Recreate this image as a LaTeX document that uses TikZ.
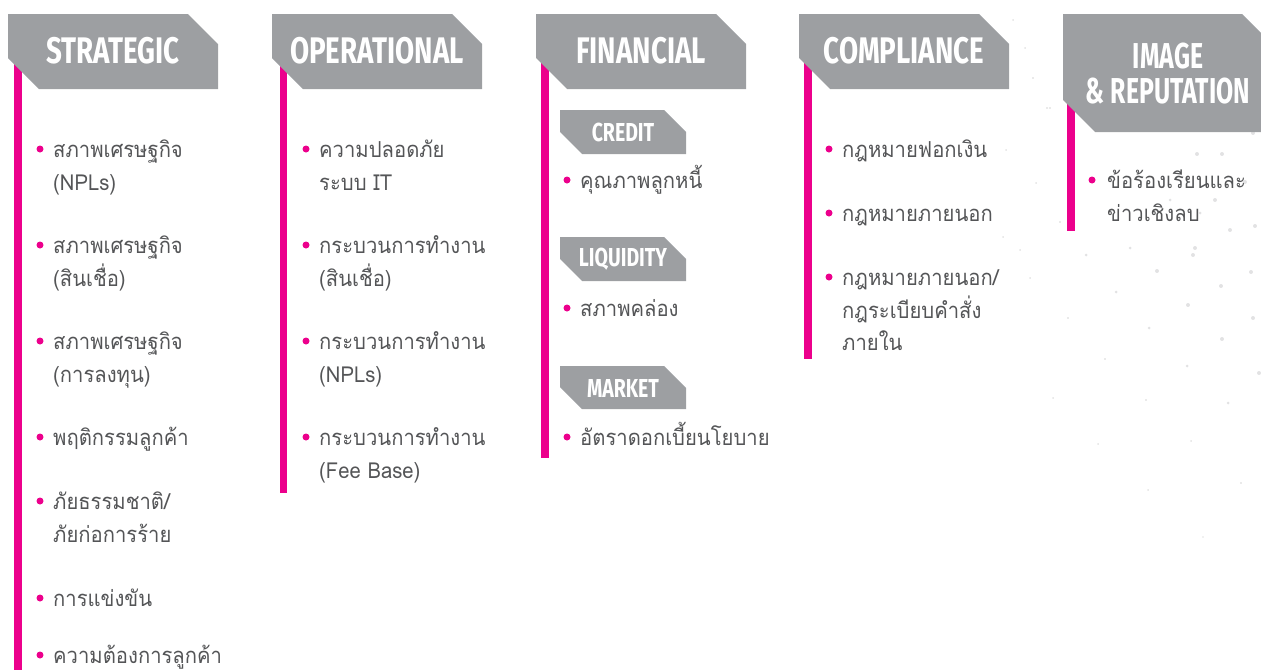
\documentclass[tikz,border=0pt]{standalone}
\usepackage{fontspec}
\newfontfamily\thaifont[Script=Thai,FakeStretch=0.92]{Loma}
\newfontfamily\hfont[FakeStretch=0.75]{Fira Sans}
\newfontfamily\rfont[FakeStretch=0.69]{Fira Sans}
\newfontfamily\sfont[FakeStretch=0.75]{Fira Sans}
\definecolor{pinkc}{HTML}{EC008C}
\definecolor{hdrgray}{HTML}{9D9FA2}
\definecolor{txtgray}{HTML}{545557}
\definecolor{dotgray}{HTML}{E2E2E3}
\tikzset{
  hdr/.style={fill=hdrgray},
  pinkbar/.style={fill=pinkc},
  htxt/.style={text=white,font=\hfont\bfseries\fontsize{37}{37}\selectfont,inner sep=0pt},
  rtxt/.style={text=white,font=\rfont\bfseries\fontsize{36}{36}\selectfont,inner sep=0pt},
  stxt/.style={text=white,font=\sfont\bfseries\fontsize{26}{26}\selectfont,inner sep=0pt},
  txt/.style={text=txtgray,font=\thaifont\fontsize{22}{22}\selectfont,inner sep=0pt,anchor=base west},
  bdot/.style={circle,fill=pinkc,inner sep=0pt,minimum size=7pt},
  bgdot/.style={fill=dotgray},
}
% L R T B c d
\newcommand\hshape[6]{\fill[hdr] (#1,#3) -- ({#2-#5},#3) -- (#2,{#3+#5}) -- (#2,#4) -- ({#1+#6},#4) -- (#1,{#4-#6}) -- cycle;}
% name x center-y text
\newcommand\tline[4]{\node[txt] (#1) at (#2,{#3+8}) {#4};}
\newcommand\bul[3]{\node[bdot] (#1) at (#2,#3) {};}
\begin{document}
\begin{tikzpicture}[x=1pt,y=-1pt]
\useasboundingbox (0,0) rectangle (1261,670);
% faint background dots
\foreach \px/\py/\r in {1013/20/1,1025/48/1,1033/78/1.2,1047/108/1.2,1006/150/1,1036/183/1,1003/237/1,1020/250/1,1030/278/1,
  1050/108/1.2,1197/154/2,1222/154/2,1253/133/2,1245/182/2,1170/200/1.5,1215/200/2,1200/213/1.5,1230/230/2,1255/226/2,1130/248/1.5,1195/248/2,1060/222/1.2,
  1086/255/1.5,1193/255/2,1157/271/2,1251/272/2,1116/292/1.5,1221/286/2,1188/305/2,1068/318/1.2,1149/328/1.5,1253/318/2,1222/339/2,
  1105/359/1.2,1187/366/1.5,1259/373/2,1053/398/1,1146/400/1.2,1228/403/1.5,1098/444/1,1191/441/1,1241/483/1.2,1148/490/1,1203/537/0.8}
  {\fill[bgdot] (\px,\py) circle[radius=\r];}
% pink bars
\fill[pinkbar] (14,58) rectangle (22,670);
\fill[pinkbar] (280,58) rectangle (287,493);
\fill[pinkbar] (541,58) rectangle (549,458);
\fill[pinkbar] (804,58) rectangle (812,359);
\fill[pinkbar] (1067,100) rectangle (1075,231);
% headers
\hshape{8}{218}{14}{89}{30}{31}
\hshape{272}{482}{14}{89}{30}{31}
\hshape{536}{746}{14}{89}{30}{31}
\hshape{799}{1009}{14}{89}{30}{31}
\fill[hdr] (1063,14) -- (1242,14) -- (1261,33) -- (1261,132) -- (1095,132) -- (1063,100) -- cycle;
\node[htxt] (hs) at (113,51) {STRATEGIC};
\node[htxt] (ho) at (377,51) {OPERATIONAL};
\node[htxt] (hf) at (641,51) {FINANCIAL};
\node[htxt] (hc) at (904,51) {COMPLIANCE};
\node[rtxt] (hi1) at (1168,56) {IMAGE};
\node[rtxt] (hi2) at (1168,91) {\&\,REPUTATION};
% financial sub headers
\hshape{560}{686}{110}{154}{22}{22}
\hshape{560}{686}{237}{281}{22}{22}
\hshape{560}{686}{366}{409}{22}{22}
\node[stxt] (sc) at (623,132) {CREDIT};
\node[stxt] (sl) at (623,259) {LIQUIDITY};
\node[stxt] (sm) at (623,388) {MARKET};
% strategic
\bul{bs1}{40}{149}\tline{s1a}{53}{149}{สภาพเศรษฐกิจ}\tline{s1b}{53}{182}{(NPLs)}
\bul{bs2}{40}{245}\tline{s2a}{53}{245}{สภาพเศรษฐกิจ}\tline{s2b}{53}{278}{(สินเชื่อ)}
\bul{bs3}{40}{341}\tline{s3a}{53}{341}{สภาพเศรษฐกิจ}\tline{s3b}{53}{374}{(การลงทุน)}
\bul{bs4}{40}{437}\tline{s4a}{53}{437}{พฤติกรรมลูกค้า}
\bul{bs5}{40}{501}\tline{s5a}{53}{501}{ภัยธรรมชาติ/}\tline{s5b}{53}{534}{ภัยก่อการร้าย}
\bul{bs6}{40}{598}\tline{s6a}{53}{598}{การแข่งขัน}
\bul{bs7}{40}{655}\tline{s7a}{53}{655}{ความต้องการลูกค้า}
% operational
\bul{bo1}{306}{149}\tline{o1a}{319}{149}{ความปลอดภัย}\tline{o1b}{319}{182}{ระบบ IT}
\bul{bo2}{306}{245}\tline{o2a}{319}{245}{กระบวนการทำงาน}\tline{o2b}{319}{278}{(สินเชื่อ)}
\bul{bo3}{306}{341}\tline{o3a}{319}{341}{กระบวนการทำงาน}\tline{o3b}{319}{374}{(NPLs)}
\bul{bo4}{306}{437}\tline{o4a}{319}{437}{กระบวนการทำงาน}\tline{o4b}{319}{470}{(Fee Base)}
% financial
\bul{bf1}{567}{180}\tline{f1a}{580}{180}{คุณภาพลูกหนี้}
\bul{bf2}{567}{308}\tline{f2a}{580}{308}{สภาพคล่อง}
\bul{bf3}{567}{437}\tline{f3a}{580}{437}{อัตราดอกเบี้ยนโยบาย}
% compliance
\bul{bc1}{829}{149}\tline{c1a}{842}{149}{กฎหมายฟอกเงิน}
\bul{bc2}{829}{213}\tline{c2a}{842}{213}{กฎหมายภายนอก}
\bul{bc3}{829}{277}\tline{c3a}{842}{277}{กฎหมายภายนอก/}\tline{c3b}{842}{310}{กฎระเบียบคำสั่ง}\tline{c3c}{842}{342}{ภายใน}
% image & reputation
\bul{bi1}{1092}{180}\tline{i1a}{1107}{180}{ข้อร้องเรียนและ}\tline{i1b}{1107}{213}{ข่าวเชิงลบ}
\end{tikzpicture}
\end{document}
